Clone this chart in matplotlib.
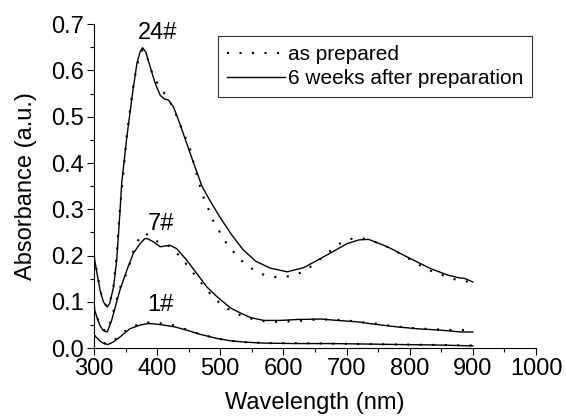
import matplotlib
matplotlib.use('Agg')
import matplotlib.pyplot as plt
from matplotlib.ticker import MultipleLocator

plt.rcParams['font.family'] = ['Liberation Sans', 'DejaVu Sans']

# 24# sample
wl_24_new = [300, 304, 310, 315, 321, 325, 331, 336, 341, 344, 352, 361, 368, 373, 377, 382, 389, 397,
             405, 412, 418, 426, 436, 447, 458, 471, 484, 500, 518, 536, 556, 579, 606, 632, 654, 675,
             701, 720, 735, 765, 796, 833, 860, 878, 886, 890, 900]
abs_24_new = [0.200, 0.168, 0.123, 0.100, 0.089, 0.097, 0.132, 0.190, 0.290, 0.358, 0.455, 0.550, 0.615,
              0.640, 0.649, 0.640, 0.608, 0.572, 0.546, 0.538, 0.536, 0.521, 0.485, 0.442, 0.399, 0.350,
              0.318, 0.282, 0.245, 0.213, 0.188, 0.173, 0.165, 0.174, 0.190, 0.206, 0.226, 0.234, 0.235,
              0.219, 0.197, 0.172, 0.158, 0.152, 0.151, 0.149, 0.143]
wl_24_prep = [300, 304, 310, 315, 321, 325, 331, 336, 341, 346, 352, 361, 368, 373, 377, 383, 390, 397,
              406, 418, 428, 439, 452, 463, 471, 490, 510, 521, 536, 552, 566, 582, 597, 612, 627, 642,
              658, 672, 688, 703, 718, 734, 760, 780, 795, 810, 825, 841, 856, 871, 886, 900]
abs_24_prep = [0.200, 0.170, 0.125, 0.100, 0.089, 0.097, 0.135, 0.200, 0.300, 0.370, 0.460, 0.555, 0.611,
               0.633, 0.645, 0.635, 0.602, 0.580, 0.561, 0.538, 0.512, 0.474, 0.431, 0.374, 0.334, 0.272,
               0.226, 0.208, 0.186, 0.170, 0.160, 0.154, 0.153, 0.156, 0.163, 0.175, 0.192, 0.208, 0.225,
               0.235, 0.239, 0.235, 0.222, 0.208, 0.196, 0.184, 0.172, 0.163, 0.156, 0.149, 0.145, 0.142]

# 7# sample
wl_7_new = [300, 305, 310, 315, 321, 328, 335, 341, 352, 362, 373, 380, 384, 394, 405, 413, 421, 431, 447,
            463, 479, 495, 516, 532, 548, 569, 595, 622, 659, 685, 717, 743, 780, 812, 849, 881, 900]
abs_7_new = [0.088, 0.065, 0.048, 0.038, 0.035, 0.060, 0.095, 0.125, 0.168, 0.204, 0.226, 0.236, 0.237,
             0.230, 0.219, 0.221, 0.222, 0.215, 0.190, 0.161, 0.132, 0.111, 0.087, 0.076, 0.066, 0.060,
             0.060, 0.062, 0.063, 0.060, 0.057, 0.052, 0.046, 0.042, 0.039, 0.035, 0.035]
wl_7_prep = [300, 305, 310, 315, 321, 328, 335, 341, 347, 354, 362, 370, 376, 381, 389, 397, 413, 425,
             438, 452, 463, 476, 488, 503, 519, 534, 549, 565, 580, 596, 611, 627, 642, 656, 672, 688,
             701, 717, 733, 747, 762, 778, 794, 808, 823, 838, 854, 869, 885, 900]
abs_7_prep = [0.090, 0.067, 0.050, 0.040, 0.036, 0.065, 0.100, 0.130, 0.147, 0.170, 0.208, 0.233, 0.243,
              0.249, 0.240, 0.232, 0.226, 0.215, 0.195, 0.172, 0.152, 0.131, 0.111, 0.093, 0.079, 0.070,
              0.064, 0.059, 0.057, 0.057, 0.058, 0.059, 0.061, 0.062, 0.062, 0.061, 0.060, 0.057, 0.055,
              0.053, 0.050, 0.047, 0.045, 0.043, 0.042, 0.041, 0.040, 0.039, 0.039, 0.037]

# 1# sample
wl_1_new = [300, 305, 310, 316, 322, 330, 341, 357, 373, 385, 392, 410, 428, 447, 468, 495, 516, 540,
            569, 620, 675, 730, 780, 840, 900]
abs_1_new = [0.028, 0.022, 0.015, 0.010, 0.008, 0.013, 0.024, 0.042, 0.050, 0.053, 0.053, 0.050, 0.046,
             0.039, 0.030, 0.021, 0.016, 0.013, 0.011, 0.010, 0.010, 0.009, 0.008, 0.007, 0.005]
wl_1_prep = [300, 305, 310, 316, 322, 330, 341, 352, 362, 378, 394, 410, 428, 447, 468, 495, 516, 540,
             569, 620, 675, 730, 780, 840, 900]
abs_1_prep = [0.028, 0.022, 0.016, 0.011, 0.009, 0.015, 0.027, 0.040, 0.047, 0.055, 0.056, 0.053, 0.049,
              0.040, 0.030, 0.021, 0.016, 0.013, 0.011, 0.011, 0.010, 0.009, 0.008, 0.007, 0.006]

labels = ['24#', '7#', '1#']
label_x = [401, 406, 405]
label_y = [0.680, 0.269, 0.093]

fig = plt.figure(figsize=(5.66, 4.16), dpi=100)
ax = fig.add_axes([0.166, 0.163, 0.781, 0.779])

dot_style = dict(color='black', lw=1.5, linestyle=(0, (1, 5)))
line_style = dict(color='black', lw=1.0)

ax.plot(wl_24_prep, abs_24_prep, label='as prepared', **dot_style)
ax.plot(wl_24_new, abs_24_new, label='6 weeks after preparation', **line_style)
ax.plot(wl_7_prep, abs_7_prep, **dot_style)
ax.plot(wl_7_new, abs_7_new, **line_style)
ax.plot(wl_1_prep, abs_1_prep, **dot_style)
ax.plot(wl_1_new, abs_1_new, **line_style)

for t, x, y in zip(labels, label_x, label_y):
    ax.text(x, y, t, fontsize=17, ha='center', va='center')

ax.set_xlim(300, 1000)
ax.set_ylim(0, 0.7)
ax.xaxis.set_major_locator(MultipleLocator(100))
ax.xaxis.set_minor_locator(MultipleLocator(50))
ax.yaxis.set_major_locator(MultipleLocator(0.1))
ax.yaxis.set_minor_locator(MultipleLocator(0.05))
ax.yaxis.set_major_formatter(plt.FormatStrFormatter('%.1f'))
ax.tick_params(which='major', direction='out', length=5, width=0.8, labelsize=17, pad=2)
ax.tick_params(which='minor', direction='out', length=3.2, width=0.8)
ax.spines['top'].set_visible(False)
ax.spines['right'].set_visible(False)

ax.set_xlabel('Wavelength (nm)', fontsize=17, labelpad=9)
ax.set_ylabel('Absorbance (a.u.)', fontsize=17, labelpad=10)

leg = ax.legend(loc='upper left', bbox_to_anchor=(0.2805, 0.963), fontsize=15, frameon=True,
                fancybox=False, edgecolor='black', handlelength=2.8, handletextpad=0.15,
                labelspacing=0.25, borderpad=0.42, borderaxespad=0)
leg.get_frame().set_linewidth(0.8)

fig.savefig('out.png', dpi=100)
